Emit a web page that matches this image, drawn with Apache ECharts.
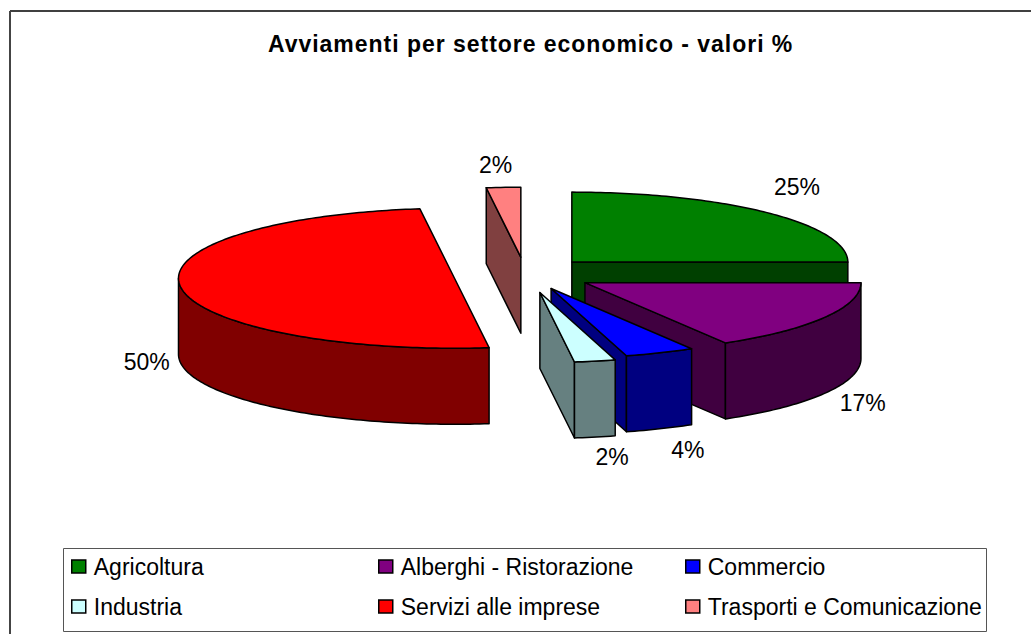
<!DOCTYPE html>
<html><head><meta charset="utf-8">
<style>html,body{margin:0;padding:0;background:#fff}#c{width:1031px;height:634px}</style>
<script src="https://cdn.jsdelivr.net/npm/echarts@6/dist/echarts.min.js"></script>
</head><body><div id="c"></div>
<script>
const categories = ['Agricoltura','Alberghi - Ristorazione','Commercio','Industria','Servizi alle imprese','Trasporti e Comunicazione'];
const shares = [25, 16.5, 4.1, 2.4, 50, 2];
const topColors = ['#008000','#800080','#0000ff','#ccffff','#ff0000','#ff8080'];
const sideColors = ['#004000','#400040','#000080','#668080','#800000','#804040'];
const stacking = [1,2,3,4,2,1];
const titleText = 'Avviamenti per settore economico - valori %';

// pie layout
const cx=525, cy=274, rx=276, ry=70, depth=76;
const explosion=[0.24,0.25,0.24,0.27,0.2575,0.24];
const drop=[0,0,-1,0,2,0];
const labelPush=[[30,-26],[38,10],[28,21],[17,20],[-34,-1],[-8,-22]];
const FONT='"Liberation Sans", Arial, sans-serif';
const total=shares.reduce((a,b)=>a+b,0);
const rad=d=>d*Math.PI/180;

function sliceAngles(i){
  let s=0; for(let k=0;k<i;k++) s+=shares[k];
  return [s/total*360,(s+shares[i])/total*360];
}
function renderSlice(i){
  const [a0,a1]=sliceAngles(i), m=(a0+a1)/2, e=explosion[i];
  const ox=cx+e*rx*Math.sin(rad(m)), oy=cy-e*ry*Math.cos(rad(m))+drop[i];
  const P=(a,d)=>[ox+rx*Math.sin(rad(a)), oy-ry*Math.cos(rad(a))+d];
  const st=(fill)=>({fill,stroke:'#000',lineWidth:1.5,lineJoin:'round'});
  const kids=[];
  const poly=(pts,fill)=>kids.push({type:'polygon',shape:{points:pts},style:st(fill)});
  const radial=(a)=>poly([[ox,oy],P(a,0),P(a,depth),[ox,oy+depth]],sideColors[i]);
  if(Math.sin(rad(a1))>1e-6) radial(a1);
  if(Math.sin(rad(a0))<-1e-6) radial(a0);
  const w0=Math.max(a0,90), w1=Math.min(a1,270);
  if(w1>w0){
    const up=[],down=[];
    for(let a=w0;;a+=1){const t=Math.min(a,w1);up.push(P(t,0));down.unshift(P(t,depth));if(t>=w1)break;}
    poly(up.concat(down),sideColors[i]);
  }
  const top=[[ox,oy]];
  for(let a=a0;;a+=1){const t=Math.min(a,a1);top.push(P(t,0));if(t>=a1)break;}
  poly(top,topColors[i]);
  const low=(m>90&&m<270)?depth:0, q=P(m,low);
  kids.push({type:'text',style:{text:Math.round(shares[i]/total*100)+'%',x:q[0]+labelPush[i][0],y:q[1]+labelPush[i][1],
    align:'center',verticalAlign:'middle',font:'23px '+FONT,fill:'#000'}});
  return {type:'group',children:kids};
}
const legendSpots=[[71,555],[378,555],[685,555],[71,595],[378,595],[685,595]];
const chart=echarts.init(document.getElementById('c'),null,{renderer:'svg'});
chart.setOption({
  animation:false,
  backgroundColor:'#fff',
  title:{text:titleText,left:268,top:32,padding:0,textStyle:{fontFamily:FONT,fontWeight:'bold',fontSize:23,color:'#000'}},
  legend:categories.map((n,i)=>({
    data:[{name:n,icon:'rect',itemStyle:{color:topColors[i],borderColor:'#000',borderWidth:1.5}}],
    left:legendSpots[i][0],top:legendSpots[i][1],padding:0,itemWidth:14,itemHeight:13,itemGap:0,
    selectedMode:false,textStyle:{fontFamily:FONT,fontSize:23,color:'#000',padding:[0,0,4,3]}
  })),
  graphic:[
    {type:'line',z:-1,shape:{x1:10,y1:11,x2:1031,y2:11},style:{stroke:'#000',lineWidth:1.5}},
    {type:'line',z:-1,shape:{x1:10,y1:11,x2:10,y2:634},style:{stroke:'#444',lineWidth:2}},
    {type:'rect',z:-1,shape:{x:63.5,y:548.5,width:923,height:83},style:{fill:'#fff',stroke:'#555',lineWidth:1}}
  ],
  series:categories.map((n,i)=>({
    type:'custom',name:n,coordinateSystem:'none',z:2+stacking[i],silent:true,
    itemStyle:{color:topColors[i]},
    data:[[shares[i]]],
    renderItem:()=>renderSlice(i)
  }))
});
// the original title is set with wide tracking
function track(){
  document.querySelectorAll('#c svg text').forEach(t=>{
    if(t.textContent===titleText) t.style.letterSpacing='0.97px';
  });
}
chart.on('finished',track); track();
</script></body></html>
